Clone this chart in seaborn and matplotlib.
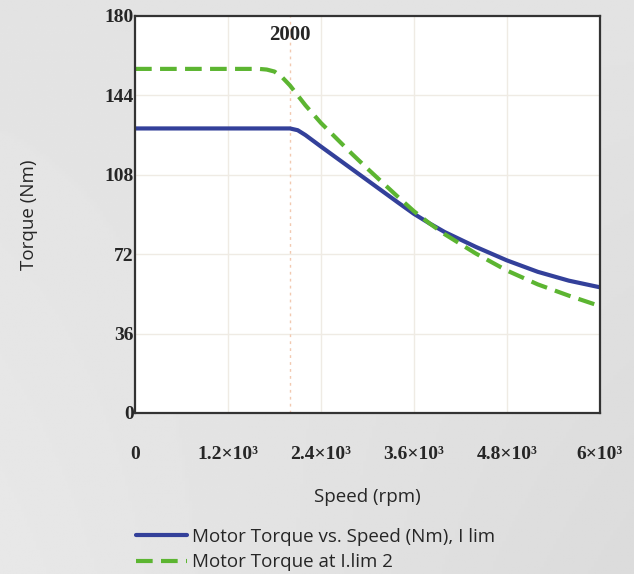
import pandas as pd
import seaborn as sns
import matplotlib.pyplot as plt
import numpy as np

# Speed (rpm) sampling points
speed = [0, 1600, 1700, 1800, 1900, 2000, 2100, 2200, 2400, 2600, 2800, 3000,
         3200, 3400, 3600, 3800, 4000, 4400, 4800, 5200, 5600, 6000]

# Motor torque vs. speed (Nm), I lim
torque_ilim = [129, 129, 129, 129, 129, 129, 128.2, 126, 120.8, 115.7, 110.6, 105.5,
               100.4, 95.3, 90.3, 86, 82, 75.3, 69.2, 64, 60, 57]

# Motor torque at I.lim 2
torque_ilim2 = [156, 156, 155.7, 154.8, 152.2, 148.5, 144, 139.5, 131.5, 124.5, 117.5, 110.8,
                104.3, 97.8, 91.5, 86, 81, 72.3, 64.6, 58.3, 53.2, 48.5]

x_ticks = [0, 1200, 2400, 3600, 4800, 6000]
x_labels = ["0", "1.2×10³", "2.4×10³", "3.6×10³", "4.8×10³", "6×10³"]
y_ticks = [0, 36, 72, 108, 144, 180]
base_speed = 2000

label_1 = "Motor Torque vs. Speed (Nm), I lim"
label_2 = "Motor Torque at I.lim 2"

sns.set_style("white")
plt.rcParams['font.family'] = ['Open Sans', 'DejaVu Sans']

fig = plt.figure(figsize=(6.34, 5.74), dpi=100)
fig.patch.set_facecolor("#dedede")

# soft grey backdrop, lighter towards the lower left
bg = fig.add_axes([0, 0, 1, 1], zorder=-10)
gy, gx = np.mgrid[0:1:200j, 0:1:200j]
shade = 0.86 + 0.05 * (1 - gx) * gy + 0.03 * (1 - gy)
bg.imshow(shade, cmap="gray", vmin=0, vmax=1, aspect="auto", extent=[0, 1, 0, 1])
bg.axis("off")

ax = fig.add_axes([0.213, 0.2805, 0.733, 0.6917])
ax.set_facecolor("white")

# faint grid
for xv in x_ticks[1:-1]:
    ax.axvline(xv, color="#efebe4", lw=1, zorder=0)
for yv in y_ticks[1:-1]:
    ax.axhline(yv, color="#efebe4", lw=1, zorder=0)

# base speed marker
ax.axvline(base_speed, color="#f2c9b0", lw=1, ls=(0, (2, 3)), zorder=1)
ax.text(base_speed, 171.5, str(base_speed), ha="center", va="center",
        family="Liberation Serif", fontweight="bold", fontsize=15)

sns.lineplot(x=speed, y=torque_ilim, ax=ax, color="#33409a", lw=3, label=label_1)
sns.lineplot(x=speed, y=torque_ilim2, ax=ax, color="#5cb531", lw=3,
             dashes=False, label=label_2).lines[-1].set_dashes((4, 2))

ax.set_xlim(0, 6000)
ax.set_ylim(0, 180)
ax.set_xticks(x_ticks)
ax.set_xticklabels(x_labels)
ax.set_yticks(y_ticks)
for lab in ax.get_xticklabels() + ax.get_yticklabels():
    lab.set_family("Liberation Serif")
    lab.set_fontweight("bold")
    lab.set_fontsize(14)
ax.tick_params(axis="x", length=0, pad=24)
ax.tick_params(axis="y", length=0, pad=1)

for s in ax.spines.values():
    s.set_color("#333333")
    s.set_linewidth(1.6)

ax.set_xlabel("Speed (rpm)", fontsize=13.5, labelpad=18)
ax.set_ylabel("Torque (Nm)", fontsize=13.5, labelpad=48)

handles, labels = ax.get_legend_handles_labels()
ax.get_legend().remove()
fig.legend(handles, labels, loc="lower left", bbox_to_anchor=(0.203, -0.008),
           frameon=False, fontsize=13.5, handlelength=2.7, handletextpad=0.3,
           labelspacing=0.4, borderaxespad=0)

fig.savefig("out.png", dpi=100, facecolor=fig.get_facecolor())
